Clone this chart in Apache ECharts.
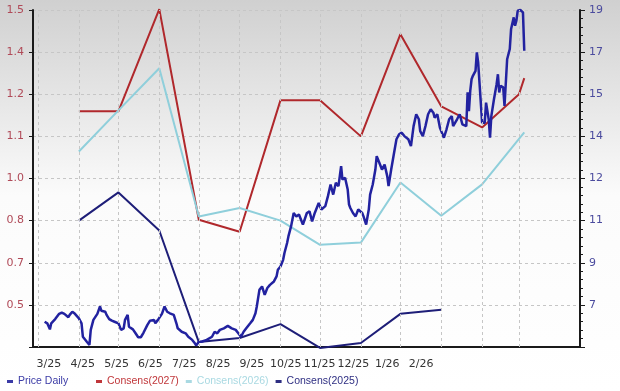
<!DOCTYPE html>
<html><head><meta charset="utf-8">
<script src="https://cdn.jsdelivr.net/npm/echarts@6/dist/echarts.min.js"></script>
<style>html,body{margin:0;padding:0;background:#fff}#c{width:620px;height:391px}</style>
</head><body><div id="c"></div>
<script>
// ---- tick labels / gridline months ----
const xLabels = ['3/25','4/25','5/25','6/25','7/25','8/25','9/25','10/25','11/25','12/25','1/26','2/26'];
const monthLines = ['2025-03-01','2025-04-01','2025-05-01','2025-06-01','2025-07-01','2025-08-01','2025-09-01','2025-10-01','2025-11-01','2025-12-01','2026-01-01','2026-02-01','2026-03-01'];

// ---- consensus series (left axis) ----
const cons2027Dates = ['2025-04-01','2025-05-01','2025-06-01','2025-07-01','2025-08-01','2025-09-01','2025-10-01','2025-11-01','2025-12-01','2026-01-01','2026-02-01','2026-03-01','2026-03-05'];
const cons2027Values = [1.169,1.169,1.499,0.819,0.780,1.205,1.205,1.088,1.418,1.185,1.117,1.224,1.276];
const cons2026Dates = ['2025-04-01','2025-05-01','2025-06-01','2025-07-01','2025-08-01','2025-09-01','2025-10-01','2025-11-01','2025-12-01','2026-01-01','2026-02-01','2026-03-05'];
const cons2026Values = [1.039,1.172,1.308,0.829,0.857,0.816,0.738,0.745,0.939,0.832,0.933,1.101];
const cons2025Dates = ['2025-04-01','2025-05-01','2025-06-01','2025-07-01','2025-08-01','2025-09-01','2025-10-01','2025-11-01','2025-12-01','2026-01-01'];
const cons2025Values = [0.816,0.907,0.784,0.424,0.437,0.482,0.405,0.421,0.515,0.528];

// ---- daily price (right axis) ----
const priceDates = ['2025-03-06','2025-03-08','2025-03-09','2025-03-10','2025-03-11','2025-03-14','2025-03-17','2025-03-19','2025-03-21','2025-03-24','2025-03-25','2025-03-27','2025-03-29','2025-03-30',
'2025-04-01','2025-04-03','2025-04-04','2025-04-07','2025-04-09','2025-04-10','2025-04-12','2025-04-15','2025-04-17','2025-04-18','2025-04-21','2025-04-22','2025-04-24','2025-04-26','2025-04-28',
'2025-05-01','2025-05-03','2025-05-05','2025-05-06','2025-05-08','2025-05-09','2025-05-12','2025-05-14','2025-05-16','2025-05-18','2025-05-20','2025-05-23','2025-05-25','2025-05-28','2025-05-29','2025-05-31',
'2025-06-03','2025-06-05','2025-06-07','2025-06-09','2025-06-12','2025-06-14','2025-06-15','2025-06-18','2025-06-21','2025-06-23','2025-06-26','2025-06-28','2025-06-29',
'2025-07-01','2025-07-03','2025-07-07','2025-07-11','2025-07-13','2025-07-15','2025-07-17','2025-07-20','2025-07-23','2025-07-26','2025-07-29','2025-07-31',
'2025-08-02','2025-08-04','2025-08-06','2025-08-09','2025-08-11','2025-08-13','2025-08-14','2025-08-16','2025-08-18','2025-08-20','2025-08-22','2025-08-24','2025-08-27','2025-08-29','2025-08-30',
'2025-09-01','2025-09-03','2025-09-04','2025-09-06','2025-09-07','2025-09-09','2025-09-11','2025-09-12','2025-09-13','2025-09-15','2025-09-18','2025-09-21','2025-09-23','2025-09-25','2025-09-27','2025-09-30',
'2025-10-02','2025-10-05','2025-10-07','2025-10-09','2025-10-11','2025-10-13','2025-10-15','2025-10-17','2025-10-18','2025-10-20','2025-10-22','2025-10-23','2025-10-24','2025-10-26','2025-10-28','2025-10-30',
'2025-11-02','2025-11-03','2025-11-05','2025-11-07','2025-11-08','2025-11-10','2025-11-12','2025-11-13','2025-11-15','2025-11-17','2025-11-19','2025-11-21','2025-11-22','2025-11-24','2025-11-26','2025-11-28','2025-11-30',
'2025-12-02','2025-12-04','2025-12-05','2025-12-07','2025-12-09','2025-12-11','2025-12-13','2025-12-15','2025-12-16','2025-12-18','2025-12-20','2025-12-22','2025-12-24','2025-12-26','2025-12-27','2025-12-29','2025-12-31',
'2026-01-01','2026-01-03','2026-01-05','2026-01-07','2026-01-09','2026-01-10','2026-01-13','2026-01-15','2026-01-17','2026-01-18','2026-01-20','2026-01-21','2026-01-22','2026-01-23','2026-01-24','2026-01-25','2026-01-27','2026-01-28','2026-01-29','2026-01-30',
'2026-02-01','2026-02-02','2026-02-03','2026-02-04','2026-02-06','2026-02-07','2026-02-08','2026-02-10','2026-02-12','2026-02-13','2026-02-14','2026-02-15','2026-02-17','2026-02-18','2026-02-20','2026-02-21','2026-02-22','2026-02-23','2026-02-25','2026-02-26','2026-02-27','2026-02-28',
'2026-03-02','2026-03-04','2026-03-05'];
const priceValues = [6.76,6.70,6.73,6.47,6.70,6.86,7.06,7.11,7.06,6.93,7.02,7.14,7.06,7.02,
6.89,6.70,6.19,6.00,5.88,6.45,6.83,7.06,7.34,7.18,7.14,7.02,6.86,6.80,6.76,
6.70,6.45,6.51,6.83,7.02,6.57,6.47,6.32,6.17,6.17,6.34,6.64,6.80,6.83,6.70,6.83,
7.06,7.34,7.14,7.08,7.02,6.70,6.51,6.38,6.32,6.19,6.07,5.94,5.86,
6.00,6.00,6.07,6.19,6.38,6.32,6.45,6.51,6.60,6.51,6.45,6.32,
6.19,6.38,6.51,6.70,6.83,7.08,7.34,7.97,8.10,7.78,8.04,8.16,8.29,8.48,8.73,
8.86,9.11,9.37,9.75,10.00,10.38,10.89,10.95,10.76,10.83,10.45,10.89,10.95,10.57,10.89,11.27,
11.02,11.15,11.53,11.97,11.59,12.04,11.91,12.67,12.16,12.23,11.78,11.21,11.08,10.89,10.76,11.02,
10.89,10.76,10.45,11.02,11.59,11.97,12.54,13.05,12.80,12.54,12.73,12.29,11.91,12.54,13.12,13.69,13.88,
13.94,13.81,13.88,13.69,13.43,14.19,14.64,14.45,14.00,13.81,14.19,14.64,14.83,14.70,14.51,14.64,14.13,
14.00,13.75,14.07,14.45,14.57,14.19,14.45,14.64,14.26,14.19,14.19,15.47,14.76,15.53,15.97,16.10,16.29,16.99,16.61,15.85,
14.32,14.26,14.32,15.08,14.45,13.75,14.57,15.21,15.78,16.16,15.47,15.72,15.66,14.96,16.73,16.80,17.12,17.88,18.32,18.00,18.19,18.57,
18.60,18.51,17.05];

const zip = (a, b) => a.map((d, i) => [d, b[i]]);
const FONT = 'DejaVu Sans';
const LEG_FONT = 'Liberation Sans';

const chart = echarts.init(document.getElementById('c'), null, {renderer: 'canvas'});
chart.setOption({
  animation: false,
  graphic: [{
    type: 'rect', z: -10, silent: true,
    shape: {x: 0, y: 0, width: 620, height: 391},
    style: {fill: new echarts.graphic.LinearGradient(0, 0, 0, 1, [
      {offset: 0, color: '#d0d0d0'}, {offset: 0.5, color: '#fbfbfb'}, {offset: 1, color: '#ffffff'}])}
  }],
  grid: [
    {left: 33, right: 40, top: 10, bottom: 44},
    {left: 32, width: 406, top: 10, bottom: 44}
  ],
  legend: [
    {data: [{name: 'Price Daily', textStyle: {color: '#3b3ba6'}}],
     left: 2, top: 371, icon: 'rect', itemWidth: 6, itemHeight: 3,
     textStyle: {fontFamily: LEG_FONT, fontSize: 10.5}},
    {data: [{name: 'Consens(2027)', textStyle: {color: '#c0363a'}},
            {name: 'Consens(2026)', textStyle: {color: '#a9d9e2'}},
            {name: 'Consens(2025)', textStyle: {color: '#2e2e82'}}],
     left: 91, top: 371, itemGap: 7, icon: 'rect', itemWidth: 6, itemHeight: 3,
     textStyle: {fontFamily: LEG_FONT, fontSize: 10.5}}
  ],
  xAxis: [
    {type: 'time', gridIndex: 0, min: '2025-02-25 04:00', max: '2026-04-16 07:00',
     axisLine: {show: true, onZero: false, lineStyle: {color: '#1a1a1a', width: 2}},
     axisTick: {show: false}, axisLabel: {show: false}, splitLine: {show: false}},
    {type: 'category', gridIndex: 1, data: xLabels, boundaryGap: true,
     axisLine: {show: false, onZero: false}, axisTick: {show: false}, splitLine: {show: false},
     axisLabel: {interval: 0, color: '#333', fontFamily: FONT, fontSize: 11, margin: 12}}
  ],
  yAxis: [
    {type: 'value', gridIndex: 0, position: 'left', min: 0.408, max: 1.496, interval: 0.136,
     axisLine: {show: true, lineStyle: {color: '#1a1a1a', width: 2}},
     axisTick: {show: true, length: 4, lineStyle: {color: '#1a1a1a'}},
     axisLabel: {color: '#b04a58', fontFamily: FONT, fontSize: 11, margin: 9,
       formatter: v => (v < 0.45 ? '' : v.toFixed(1))},
     splitLine: {show: true, lineStyle: {color: '#c6c6c6', type: [3, 3], width: 1}}},
    {type: 'value', gridIndex: 0, position: 'right', min: 5.8, max: 18.6, interval: 1.6,
     axisLine: {show: true, lineStyle: {color: '#1a1a1a', width: 2}},
     axisTick: {show: true, length: 5, lineStyle: {color: '#1a1a1a'}},
     minorTick: {show: true, splitNumber: 5, length: 3, lineStyle: {color: '#1a1a1a'}},
     axisLabel: {color: '#4b4b9e', fontFamily: FONT, fontSize: 11, margin: 9,
       formatter: v => (v < 6.5 ? '' : String(Math.round(v)))},
     splitLine: {show: false}},
    {type: 'value', gridIndex: 1, show: false}
  ],
  series: [
    {name: 'grid', type: 'line', xAxisIndex: 0, yAxisIndex: 0, data: [], z: 1, silent: true,
     markLine: {symbol: 'none', silent: true, label: {show: false},
       lineStyle: {color: '#c6c6c6', type: [3, 3], width: 1},
       data: monthLines.map(d => ({xAxis: d}))}},
    {name: 'Consens(2027)', type: 'line', xAxisIndex: 0, yAxisIndex: 0, data: zip(cons2027Dates, cons2027Values),
     symbol: 'none', clip: false, z: 3, lineStyle: {color: '#b0282c', width: 2}, itemStyle: {color: '#c0363a'}},
    {name: 'Consens(2026)', type: 'line', xAxisIndex: 0, yAxisIndex: 0, data: zip(cons2026Dates, cons2026Values),
     symbol: 'none', clip: false, z: 3, lineStyle: {color: '#8fcfdb', width: 2}, itemStyle: {color: '#a9d9e2'}},
    {name: 'Consens(2025)', type: 'line', xAxisIndex: 0, yAxisIndex: 0, data: zip(cons2025Dates, cons2025Values),
     symbol: 'none', clip: false, z: 3, lineStyle: {color: '#1e1e78', width: 2}, itemStyle: {color: '#2e2e82'}},
    {name: 'Price Daily', type: 'line', xAxisIndex: 0, yAxisIndex: 1, data: zip(priceDates, priceValues),
     symbol: 'none', clip: false, z: 4, lineStyle: {color: '#2222a0', width: 2.5}, itemStyle: {color: '#3b3ba6'}}
  ]
});
</script></body></html>
